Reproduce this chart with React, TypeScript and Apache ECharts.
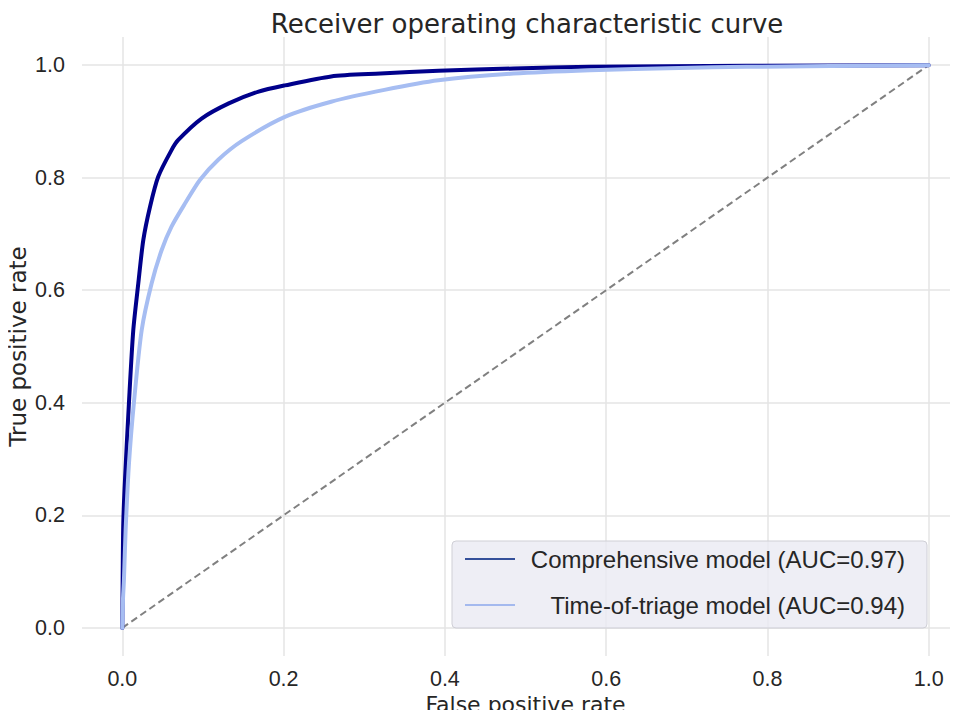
import React, { useEffect, useRef } from "react";
import * as echarts from "echarts";

const titleText = "Receiver operating characteristic curve";
const xName = "False positive rate";
const yName = "True positive rate";
const tickValues = [0, 0.2, 0.4, 0.6, 0.8, 1.0];

const compName = "Comprehensive model (AUC=0.97)";
const triageName = "Time-of-triage model (AUC=0.94)";

const compFpr = [0, 0.0005, 0.0012, 0.0033, 0.0083, 0.0136, 0.0198, 0.026, 0.0343, 0.0446, 0.061, 0.0694, 0.0983, 0.132, 0.169, 0.2016, 0.259, 0.32, 0.392, 0.485, 0.58, 0.774, 1.0];
const compTpr = [0, 0.1, 0.186, 0.263, 0.402, 0.529, 0.612, 0.689, 0.748, 0.802, 0.849, 0.867, 0.905, 0.932, 0.953, 0.964, 0.98, 0.985, 0.99, 0.994, 0.997, 0.999, 1.0];

const triFpr = [0, 0.0008, 0.002, 0.0041, 0.0083, 0.0145, 0.024, 0.0363, 0.0487, 0.061, 0.0777, 0.0962, 0.119, 0.148, 0.2016, 0.259, 0.325, 0.392, 0.485, 0.58, 0.69, 0.774, 1.0];
const triTpr = [0, 0.05, 0.085, 0.174, 0.293, 0.402, 0.529, 0.612, 0.671, 0.713, 0.754, 0.796, 0.832, 0.865, 0.908, 0.935, 0.956, 0.973, 0.985, 0.991, 0.995, 0.997, 1.0];

const diagX = [0, 1];
const diagY = [0, 1];

const FONT = "DejaVu Sans";
const FONT2 = "Liberation Sans";
const TXT = "#262626";

export default function App() {
  const ref = useRef<HTMLDivElement>(null);
  useEffect(() => {
    if (!ref.current) return;
    const chart = echarts.init(ref.current, null, { renderer: "svg" });
    const zip = (a: number[], b: number[]) => a.map((v, i) => [v, b[i]]);
    const gridLines = [
      ...tickValues.map((v) => ({ xAxis: v })),
      ...tickValues.map((v) => ({ yAxis: v })),
    ];
    chart.setOption({
      animation: false,
      title: {
        text: titleText,
        left: 522,
        textAlign: "center",
        top: 6,
        textStyle: { fontFamily: FONT, fontSize: 26, fontWeight: "normal", color: TXT },
      },
      grid: { left: 82, top: 37, width: 887, height: 619, outerBoundsMode: "none", containLabel: false },
      xAxis: {
        type: "value",
        min: -0.05,
        max: 1.05,
        name: xName,
        nameLocation: "middle",
        nameGap: 36,
        nameMoveOverlap: false,
        nameTextStyle: { fontFamily: FONT, fontSize: 22, color: TXT, lineHeight: 25 },
        axisLine: { show: false, onZero: false },
        axisTick: { show: false, customValues: tickValues },
        splitLine: { show: false },
        axisLabel: {
          customValues: tickValues,
          formatter: (v: number) => v.toFixed(1),
          fontFamily: FONT2,
          fontSize: 21.5,
          color: TXT,
          margin: 11,
          lineHeight: 24,
        },
      },
      yAxis: {
        type: "value",
        min: -0.05,
        max: 1.05,
        name: yName,
        nameLocation: "middle",
        nameGap: 53,
        nameMoveOverlap: false,
        nameTextStyle: { fontFamily: FONT, fontSize: 23, color: TXT },
        axisLine: { show: false, onZero: false },
        axisTick: { show: false, customValues: tickValues },
        splitLine: { show: false },
        axisLabel: {
          customValues: tickValues,
          formatter: (v: number) => v.toFixed(1),
          fontFamily: FONT2,
          fontSize: 21.5,
          color: TXT,
          margin: 17,
        },
      },
      legend: {
        orient: "vertical",
        left: 452,
        top: 541,
        padding: [4, 22, 9, 13],
        itemGap: 18,
        itemWidth: 50,
        itemHeight: 2,
        icon: "rect",
        backgroundColor: "rgba(234,234,242,0.8)",
        borderColor: "#cfcfd6",
        borderWidth: 1,
        borderRadius: 4,
        data: [
          { name: compName, itemStyle: { color: "#34509a" } },
          { name: triageName, itemStyle: { color: "#a4b9ee" } },
        ],
        formatter: (name: string) => "{a|" + name + "}",
        textStyle: {
          fontFamily: FONT2,
          fontSize: 24,
          color: TXT,
          lineHeight: 28,
          rich: { a: { width: 385, align: "right", fontFamily: FONT2, fontSize: 24, color: TXT, lineHeight: 28 } },
        },
      },
      series: [
        {
          name: "chance",
          type: "line",
          data: zip(diagX, diagY),
          showSymbol: false,
          symbol: "none",
          silent: true,
          lineStyle: { color: "#808080", width: 2, type: [7, 4] },
          markLine: {
            silent: true,
            z: 1,
            symbol: ["none", "none"],
            label: { show: false },
            lineStyle: { color: "#e4e4e4", width: 1.5, type: "solid" },
            data: gridLines,
          },
        },
        {
          name: compName,
          type: "line",
          data: zip(compFpr, compTpr),
          showSymbol: false,
          symbol: "none",
          smooth: 0.25,
          lineStyle: { color: "#00008b", width: 4, join: "round", cap: "round" },
          itemStyle: { color: "#00008b" },
          z: 3,
        },
        {
          name: triageName,
          type: "line",
          data: zip(triFpr, triTpr),
          showSymbol: false,
          symbol: "none",
          smooth: 0.25,
          lineStyle: { color: "#a6bdf2", width: 4, join: "round", cap: "round" },
          itemStyle: { color: "#a6bdf2" },
          z: 4,
        },
      ],
    });
    return () => chart.dispose();
  }, []);
  return <div ref={ref} style={{ width: 958, height: 718, margin: -8 }} />;
}
